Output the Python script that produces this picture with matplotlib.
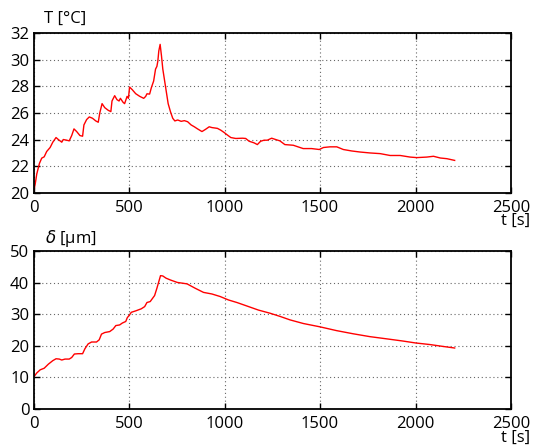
import matplotlib
matplotlib.use('Agg')
import matplotlib.pyplot as plt

plt.rcParams['font.family'] = ['Open Sans', 'DejaVu Sans']
plt.rcParams['mathtext.fontset'] = 'dejavusans'

# 溫度曲線 (時間 s, 溫度 °C)
t_T = [0, 9, 17, 31, 43, 56, 69, 87, 101, 118, 130, 148, 156, 174, 187, 200, 212, 226,
       243, 257, 264, 278, 292, 309, 326, 339, 347, 359, 373, 391, 405, 411, 425, 437,
       448, 455, 469, 477, 490, 497, 503, 517, 535, 556, 577, 587, 594, 608, 617, 629,
       639, 646, 651, 656, 663, 670, 677, 691, 705, 717, 729, 740, 755, 773, 790, 807,
       825, 842, 859, 882, 900, 920, 934, 963, 981, 998, 1016, 1033, 1059, 1094, 1111,
       1129, 1155, 1172, 1189, 1207, 1224, 1247, 1268, 1290, 1316, 1360, 1412, 1456,
       1496, 1518, 1552, 1588, 1622, 1666, 1710, 1762, 1815, 1867, 1920, 1972, 2007,
       2059, 2094, 2130, 2164, 2205]
T = [20.0, 20.66, 21.4, 22.2, 22.6, 22.7, 23.1, 23.4, 23.8, 24.15, 24.0, 23.8, 24.0,
     23.95, 23.9, 24.3, 24.8, 24.6, 24.3, 24.25, 25.1, 25.5, 25.7, 25.6, 25.4, 25.3,
     26.0, 26.7, 26.4, 26.2, 26.1, 26.9, 27.3, 27.0, 26.9, 27.1, 26.8, 26.7, 27.25,
     27.1, 27.95, 27.75, 27.45, 27.25, 27.1, 27.24, 27.44, 27.42, 27.9, 28.4, 29.3,
     29.5, 29.9, 30.66, 31.16, 30.3, 29.3, 28.0, 26.7, 26.1, 25.6, 25.4, 25.47, 25.37,
     25.42, 25.34, 25.1, 24.96, 24.8, 24.6, 24.76, 24.96, 24.9, 24.84, 24.7, 24.53,
     24.33, 24.15, 24.08, 24.1, 24.08, 23.87, 23.75, 23.62, 23.87, 23.95, 23.95, 24.1,
     24.0, 23.9, 23.62, 23.57, 23.32, 23.32, 23.25, 23.4, 23.45, 23.45, 23.25, 23.14,
     23.06, 22.99, 22.94, 22.8, 22.8, 22.68, 22.64, 22.68, 22.74, 22.61, 22.56, 22.43]

# 位移曲線 (時間 s, delta µm)
t_d = [0, 17, 35, 56, 78, 101, 118, 135, 148, 165, 187, 200, 214, 234, 257, 269, 286,
       304, 330, 344, 356, 373, 399, 417, 431, 451, 465, 483, 491, 503, 512, 535, 564,
       582, 594, 611, 634, 646, 656, 665, 677, 694, 718, 753, 804, 847, 890, 934, 977,
       1021, 1065, 1117, 1178, 1239, 1291, 1343, 1413, 1500, 1587, 1674, 1761, 1849,
       1935, 2000, 2075, 2144, 2205]
d = [10.0, 11.4, 12.4, 12.9, 14.2, 15.3, 15.9, 15.8, 15.5, 15.8, 15.8, 16.3, 17.4,
     17.5, 17.5, 19.05, 20.6, 21.2, 21.2, 21.9, 23.7, 24.2, 24.5, 25.3, 26.4, 26.6,
     27.2, 27.7, 28.9, 29.8, 30.6, 31.05, 31.7, 32.4, 33.7, 34.0, 35.9, 38.2, 40.3,
     42.2, 42.1, 41.4, 40.8, 40.05, 39.6, 38.2, 36.9, 36.4, 35.6, 34.5, 33.7, 32.6,
     31.3, 30.3, 29.3, 28.2, 27.05, 26.0, 24.8, 23.8, 22.9, 22.2, 21.5, 20.9, 20.4,
     19.8, 19.3]

W, H = 546, 445
fig = plt.figure(figsize=(W / 100, H / 100), dpi=100)
ax1 = fig.add_axes([33.5 / W, 1 - 192.7 / H, 477.5 / W, 159.5 / H])
ax2 = fig.add_axes([33.5 / W, 1 - 409 / H, 477.5 / W, 158 / H])

ax1.plot(t_T, T, color='red', linewidth=1.0)
ax2.plot(t_d, d, color='red', linewidth=1.0)

ax1.set_ylim(20, 32)
ax1.set_yticks(range(20, 33, 2))
ax2.set_ylim(0, 50)
ax2.set_yticks(range(0, 51, 10))

for ax in [ax1, ax2]:
    ax.set_xlim(0, 2500)
    ax.set_xticks(range(0, 2501, 500))
    ax.grid(True, color='0.4', linewidth=0.8, dashes=(1, 2.5))
    ax.tick_params(direction='in', top=True, right=True, length=4, width=1.0,
                   labelsize=12, pad=3)
    ax.tick_params(axis='x', pad=5)
    for s in ax.spines.values():
        s.set_linewidth(1.3)

# 軸標籤
fig.text(44 / W, 1 - 19 / H, 'T [°C]', fontsize=12, va='center', ha='left')
fig.text(45 / W, 1 - 238.5 / H, r'$\delta$ [μm]', fontsize=12, va='center', ha='left')
fig.text(516 / W, 1 - 221 / H, 't [s]', fontsize=12, va='center', ha='center')
fig.text(516 / W, 1 - 437.5 / H, 't [s]', fontsize=12, va='center', ha='center')

fig.savefig('out.png', dpi=100)
